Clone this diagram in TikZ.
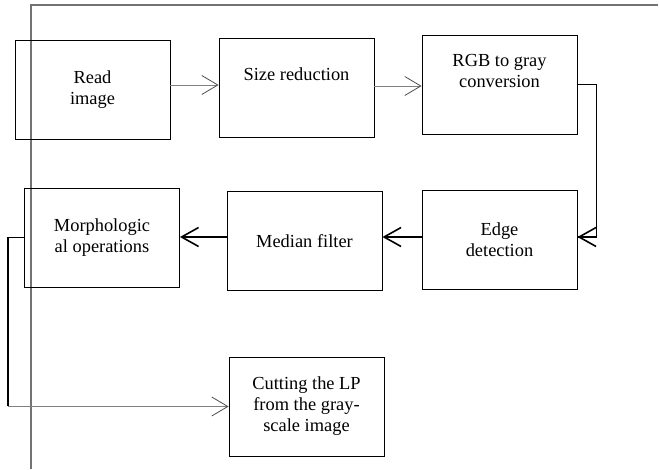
\documentclass[tikz,border=0pt]{standalone}
\usepackage{fontspec}
\setmainfont{Liberation Serif}
\usepackage{tikz}
\usetikzlibrary{arrows.meta}

\begin{document}
\begin{tikzpicture}[x=1pt,y=-1pt,
        stepbox/.style={draw, line width=0.9pt, minimum width=155pt, minimum height=99pt,
            inner sep=0pt, align=center, font=\fontsize{18.4}{21}\selectfont},
        thinarrow/.style={draw=black!50, line width=0.9pt,
            -{Straight Barb[length=16pt,width=19pt,line width=0.8pt,color=black!70]}},
        thickarrow/.style={line width=1.8pt, -{Straight Barb[length=17pt,width=19pt,line width=1.6pt]}},
        blackline/.style={line width=1.8pt},
        frameline/.style={draw=black!55, line width=1.4pt}]
        \useasboundingbox (0,0) rectangle (659,470);
        \draw [frameline] (31,469) -- (31,5) -- (658,5);
        \node [stepbox] (read) at (92.5,89.5) {Read\\image};
        \node [stepbox] (size) at (296.5,87.5) {Size reduction\\\strut};
        \node [stepbox] (rgb) at (499.5,84.5) {RGB to gray\\conversion\\\strut};
        \node [stepbox] (edge) at (499.5,239.5) {Edge\\detection};
        \node [stepbox] (median) at (304.5,241) {Median filter};
        \node [stepbox] (morph) at (102,237.5) {Morphologic\\al operations};
        \node [stepbox] (cut) at (306.5,406.5) {Cutting the LP\\from the gray-\\scale image};
        \draw [thinarrow] ([yshift=4.5pt]read.east) -- ([yshift=4.5pt]read.east -| size.west);
        \draw [thinarrow] ([yshift=1.5pt]size.east) -- ([yshift=1.5pt]size.east -| rgb.west);
        \path (rgb.east) ++(19,0) coordinate (rbend);
        \draw [blackline, line width=1.3pt] (rgb.east) -- (rbend) |- ([yshift=2.5pt]edge.east);
        \draw [thickarrow] ([yshift=2.5pt]edge.east -| rbend) -- ([yshift=2.5pt]edge.east);
        \draw [thickarrow] ([yshift=2.5pt]edge.west) -- ([yshift=2.5pt]edge.west -| median.east);
        \draw [thickarrow] ([yshift=4pt]median.west) -- ([yshift=4pt]median.west -| morph.east);
        \path (morph.west) ++(-16,0) coordinate (upbend);
        \coordinate (lowbend) at (upbend |- cut.west);
        \draw [blackline] (morph.west) -- (upbend) -- (lowbend);
        \draw [thinarrow] (lowbend) -- (cut.west);
    \end{tikzpicture}
\end{document}
